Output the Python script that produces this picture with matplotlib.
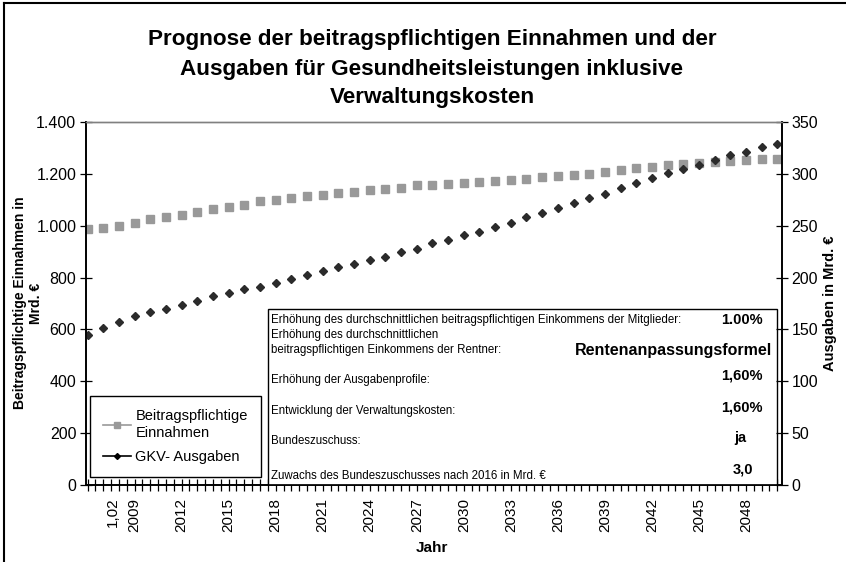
import numpy as np
import matplotlib
matplotlib.use("Agg")
import matplotlib.pyplot as plt
from matplotlib.lines import Line2D
from matplotlib.patches import Rectangle
from matplotlib.ticker import FuncFormatter, MultipleLocator

plt.rcParams['font.family'] = ['Liberation Sans', 'DejaVu Sans']

# data
years = list(range(2006, 2051))
einnahmen = [986, 990, 1000, 1011, 1024, 1033, 1043, 1053, 1063, 1073,
             1079, 1095, 1101, 1107, 1114, 1118, 1126, 1130, 1137, 1141,
             1144, 1158, 1158, 1162, 1166, 1168, 1172, 1176, 1180, 1186,
             1190, 1197, 1200, 1207, 1215, 1221, 1225, 1233, 1238, 1243,
             1245, 1251, 1255, 1257, 1257]
ausgaben = [145, 151, 157, 163, 167, 170, 174, 177, 182, 185,
            189, 191, 195, 199, 202, 206, 210, 213, 217, 220,
            225, 228, 233, 236, 241, 244, 249, 253, 258, 262,
            267, 272, 277, 281, 286, 291, 296, 301, 305, 309,
            313, 318, 321, 326, 329]
xlabel_pos = [2007.6] + list(range(2009, 2049, 3))
xlabel_txt = ['1,02'] + [str(y) for y in range(2009, 2049, 3)]

info_labels = [
    "Erhöhung des durchschnittlichen beitragspflichtigen Einkommens der Mitglieder:",
    "Erhöhung des durchschnittlichen",
    "beitragspflichtigen Einkommens der Rentner:",
    "Erhöhung der Ausgabenprofile:",
    "Entwicklung der Verwaltungskosten:",
    "Bundeszuschuss:",
    "Zuwachs des Bundeszuschusses nach 2016 in Mrd. €",
]
info_values = ["1.00%", "Rentenanpassungsformel", "1,60%", "1,60%", "ja", "3,0"]

W, H = 846, 562
fig = plt.figure(figsize=(W / 100, H / 100), dpi=100)


def px(x, y):
    return x / W, 1 - y / H


ax = fig.add_axes([86 / W, 1 - 485 / H, (782 - 86) / W, (485 - 122) / H])
ax2 = ax.twinx()

ax.plot(years, einnahmen, linestyle='none', marker='s', ms=5.8,
        color='#999999', mec='#999999')
ax2.plot(years, ausgaben, linestyle='none', marker='D', ms=4.3,
         color='#2b2b2b', mec='#2b2b2b')

ax.set_xlim(2005.9, 2050.3)
ax.set_ylim(0, 1400)
ax2.set_ylim(0, 350)
ax.yaxis.set_major_locator(MultipleLocator(200))
ax2.yaxis.set_major_locator(MultipleLocator(50))
ax.yaxis.set_major_formatter(
    FuncFormatter(lambda v, p: f"{int(v):,}".replace(",", ".")))

ax.set_xticks(np.arange(2006, 2050.5, 0.5))
ax.set_xticklabels([])
ax.tick_params(axis='x', direction='inout', length=8, width=0.9)
ax.tick_params(axis='y', direction='inout', length=8, width=0.9,
               labelsize=11.5, pad=3)
ax2.tick_params(axis='y', direction='inout', length=8, width=0.9,
                labelsize=11.5, pad=3)
for xp, t in zip(xlabel_pos, xlabel_txt):
    ax.text(xp, -0.035, t, transform=ax.get_xaxis_transform(),
            rotation=90, ha='center', va='top', fontsize=11)

for a in (ax, ax2):
    a.spines['top'].set_color('#808080')
    a.spines['top'].set_linewidth(1)
    a.spines['left'].set_linewidth(1.2)
    a.spines['right'].set_linewidth(1.2)
    a.spines['bottom'].set_linewidth(1.2)

fig.text(*px(432, 548), "Jahr", ha='center', va='center',
         fontsize=11, fontweight='bold')
# left axis title, two lines written separately
fig.text(*px(20, 303), "Beitragspflichtige Einnahmen in",
         rotation=90, ha='center', va='center', fontsize=10,
         fontweight='bold')
fig.text(*px(36, 303), "Mrd. €",
         rotation=90, ha='center', va='center', fontsize=10,
         fontweight='bold')
fig.text(*px(830, 303), "Ausgaben in Mrd. €", rotation=90,
         ha='center', va='center', fontsize=10.5, fontweight='bold')

fig.text(*px(432, 69), "Prognose der beitragspflichtigen Einnahmen und der\n"
         "Ausgaben für Gesundheitsleistungen inklusive\nVerwaltungskosten",
         ha='center', va='center', fontsize=16.2, fontweight='bold',
         linespacing=1.5)

# legend
handles = [Line2D([], [], color='#999999', marker='s', ms=4, lw=1.2),
           Line2D([], [], color='black', marker='D', ms=3, lw=1.2)]
leg = ax.legend(handles, ["Beitragspflichtige\nEinnahmen", "GKV- Ausgaben"],
                loc='lower left', bbox_to_anchor=(0.006, 0.022),
                borderaxespad=0, fancybox=False, edgecolor='black',
                framealpha=1, fontsize=10.5, handlelength=1.9,
                handletextpad=0.3, labelspacing=0.7, borderpad=0.9)
leg.get_frame().set_linewidth(1)

# info box
box = Rectangle(((268 - 86) / 696, 0), (777 - 268) / 696, (485 - 309) / 363,
                transform=ax.transAxes, fill=True, facecolor='white',
                edgecolor='black', lw=1, zorder=5)
ax.add_patch(box)
label_y = [320, 335, 350, 380, 411, 441, 476]
for t, yy in zip(info_labels, label_y):
    fig.text(*px(271, yy), t, ha='left', va='center', fontsize=8.3,
             zorder=6)
value_pos = [(742, 320, 'center', 10.5), (772, 351, 'right', 11.5),
             (742, 376, 'center', 10.5), (742, 408, 'center', 10.5),
             (740, 438, 'center', 10.5), (743, 470, 'center', 10.5)]
for v, (xx, yy, ha, fs) in zip(info_values, value_pos):
    fig.text(*px(xx, yy), v, ha=ha, va='center', fontsize=fs,
             fontweight='bold', zorder=6)

# outer frame (left and top edges visible)
fig.add_artist(Line2D([4 / W, 4 / W], [0, 1 - 3 / H], color='black',
                      lw=1.5, transform=fig.transFigure))
fig.add_artist(Line2D([4 / W, 1], [1 - 3 / H, 1 - 3 / H], color='black',
                      lw=1.5, transform=fig.transFigure))

fig.savefig("out.png", dpi=100)
